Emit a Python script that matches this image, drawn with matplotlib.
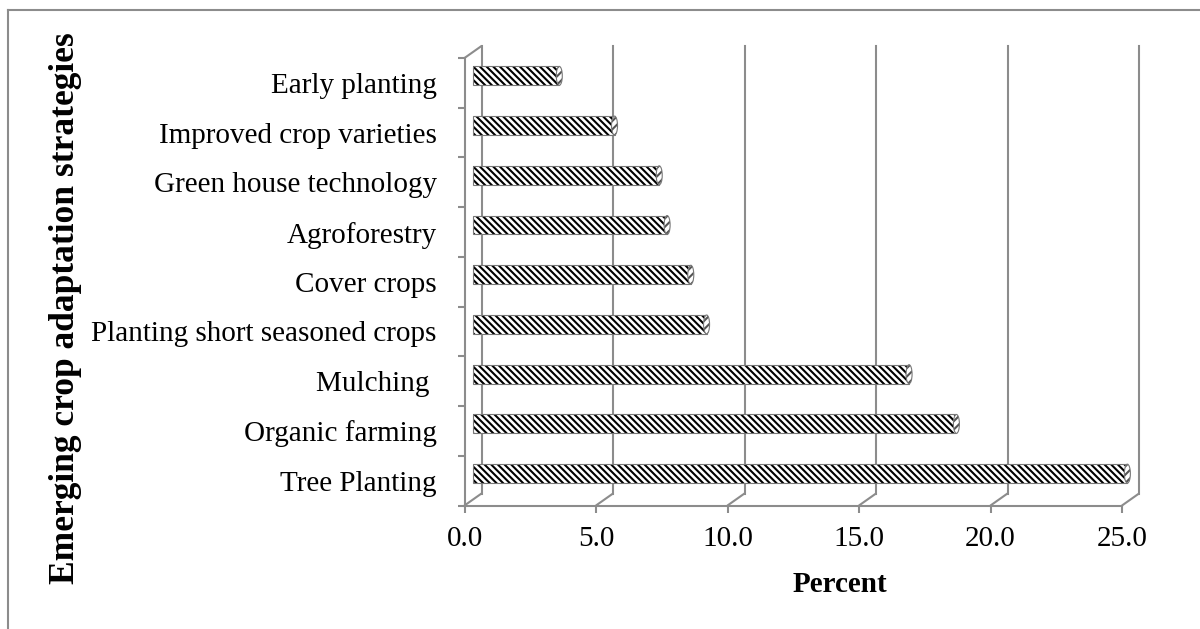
import matplotlib.pyplot as plt
import matplotlib.transforms as mtransforms
from matplotlib.patches import ConnectionPatch, Ellipse
from matplotlib.lines import Line2D
import numpy as np

strategies = ['Tree Planting', 'Organic farming', 'Mulching ', 'Planting short seasoned crops',
              'Cover crops', 'Agroforestry', 'Green house technology',
              'Improved crop varieties', 'Early planting']
percent = [24.9, 18.4, 16.6, 8.9, 8.3, 7.4, 7.1, 5.4, 3.3]
xticks = [0, 5, 10, 15, 20, 25]
xlabels = ['0.0', '5.0', '10.0', '15.0', '20.0', '25.0']

plt.rcParams['font.family'] = ['Liberation Serif', 'DejaVu Serif']
plt.rcParams['hatch.linewidth'] = 1.5

gray = '#8c8c8c'
W, H = 1200, 629

fig = plt.figure(figsize=(12, 6.29), dpi=100)
ax = fig.add_axes([464.5 / W, 1 - 505.5 / H, (1122 - 464.5) / W, (505.5 - 58) / H])
ax.set_xlim(0, 25)
ax.set_ylim(-0.5, 8.5)

# outer frame (only top and left visible)
fig.add_artist(Line2D([8 / W, 8 / W], [0, 1 - 9.5 / H], color=gray, lw=1.5))
fig.add_artist(Line2D([8 / W, 1], [1 - 9.5 / H, 1 - 9.5 / H], color=gray, lw=1.5))

for s in ['top', 'right']:
    ax.spines[s].set_visible(False)
for s in ['left', 'bottom']:
    ax.spines[s].set_color(gray)
    ax.spines[s].set_linewidth(1.5)

# pseudo 3d depth
back = mtransforms.offset_copy(ax.transData, fig=fig, x=17, y=12, units='dots')
mid = mtransforms.offset_copy(ax.transData, fig=fig, x=8, y=7, units='dots')

for v in xticks:
    ax.plot([v, v], [-0.5, 8.5], transform=back, color=gray, lw=1.5, clip_on=False, zorder=1)
    cp = ConnectionPatch((v, -0.5), (v, -0.5), coordsA=ax.transData, coordsB=back,
                         color=gray, lw=1.5, clip_on=False, zorder=1)
    ax.add_artist(cp)
cp = ConnectionPatch((0, 8.5), (0, 8.5), coordsA=ax.transData, coordsB=back,
                     color=gray, lw=1.5, clip_on=False, zorder=1)
ax.add_artist(cp)

y = np.arange(len(strategies))
bh = 0.38
ax.barh(y, percent, height=bh, color='white', edgecolor='black', hatch='\\\\\\\\\\',
        linewidth=0, transform=mid, zorder=3, clip_on=False)
ax.barh(y, percent, height=bh, fill=False, edgecolor='#777777', linewidth=0.8,
        transform=mid, zorder=4, clip_on=False)
for yi, v in zip(y, percent):
    e = Ellipse((v, yi), width=6 / 26.3, height=bh, transform=mid, facecolor='white',
                edgecolor='#555555', hatch='////', linewidth=0, zorder=5, clip_on=False)
    ax.add_patch(e)
    e2 = Ellipse((v, yi), width=6 / 26.3, height=bh, transform=mid, fill=False,
                 edgecolor='#777777', linewidth=0.8, zorder=6, clip_on=False)
    ax.add_patch(e2)

ax.set_yticks(y, strategies)
ax.set_yticks(np.arange(-0.5, 9, 1), minor=True)
ax.tick_params(axis='y', which='major', length=0, pad=20, labelsize=21)
ax.tick_params(axis='y', which='minor', length=5, width=1.5, color=gray)
ax.set_xticks(xticks, xlabels)
ax.tick_params(axis='x', length=5, width=1.5, color=gray, pad=10, labelsize=21)

fig.text(66 / W, 1 - 308 / H, 'Emerging crop adaptation strategies', rotation=90,
         ha='center', va='center', fontsize=25.5, fontweight='bold')
fig.text(840 / W, 1 - 585 / H, 'Percent', ha='center', va='center',
         fontsize=21, fontweight='bold')

fig.savefig('out.png', dpi=100)
